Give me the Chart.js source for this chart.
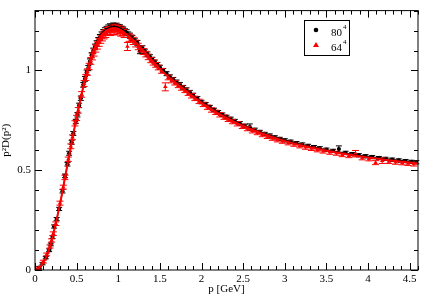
<!DOCTYPE html>
<html>
<head>
<meta charset="utf-8">
<script src="https://cdn.jsdelivr.net/npm/chart.js@4.4.1/dist/chart.umd.min.js"></script>
<style>
    body { margin: 0; background: #ffffff; }
    #chart { display: block; }
</style>
</head>
<body>
<canvas id="chart" width="422" height="296"></canvas>
<script>
// 80^4 lattice
const p80 = [
    0.05, 0.09, 0.13, 0.17, 0.19, 0.21, 0.23, 0.26, 0.29, 0.33,
    0.36, 0.39, 0.41, 0.44, 0.46, 0.49, 0.51, 0.53, 0.55, 0.58,
    0.60, 0.62, 0.64, 0.66, 0.68, 0.70, 0.72, 0.74, 0.76, 0.78,
    0.80, 0.82, 0.84, 0.86, 0.88, 0.90, 0.92, 0.94, 0.96, 0.98,
    1.00, 1.02, 1.04, 1.06, 1.08, 1.10, 1.12, 1.14, 1.17, 1.20,
    1.23, 1.26, 1.29, 1.32, 1.35, 1.38, 1.41, 1.44, 1.47, 1.50,
    1.54, 1.58, 1.62, 1.66, 1.70, 1.74, 1.78, 1.82, 1.86, 1.90,
    1.95, 2.00, 2.05, 2.10, 2.15, 2.20, 2.25, 2.30, 2.35, 2.40,
    2.46, 2.52, 2.58, 2.64, 2.70, 2.76, 2.82, 2.88, 2.94, 3.00,
    3.07, 3.14, 3.21, 3.28, 3.35, 3.42, 3.50, 3.58, 3.65, 3.73,
    3.81, 3.89, 3.97, 4.05, 4.13, 4.21, 4.29, 4.37, 4.45, 4.52, 4.58
];
const y80 = [
    0.012, 0.032, 0.062, 0.099, 0.128, 0.165, 0.218, 0.255, 0.306, 0.395,
    0.472, 0.53, 0.585, 0.64, 0.684, 0.745, 0.778, 0.825, 0.861, 0.928,
    0.958, 0.99, 1.012, 1.045, 1.076, 1.098, 1.118, 1.135, 1.15, 1.165,
    1.178, 1.19, 1.198, 1.205, 1.212, 1.218, 1.214, 1.222, 1.219, 1.221,
    1.216, 1.214, 1.207, 1.204, 1.195, 1.19, 1.18, 1.174, 1.163, 1.15,
    1.138, 1.098, 1.112, 1.096, 1.082, 1.068, 1.055, 1.042, 1.03, 1.016,
    1.0, 0.984, 0.968, 0.955, 0.942, 0.93, 0.915, 0.903, 0.89, 0.876,
    0.86, 0.842, 0.83, 0.816, 0.802, 0.79, 0.778, 0.767, 0.757, 0.746,
    0.735, 0.722, 0.716, 0.702, 0.692, 0.682, 0.674, 0.665, 0.657, 0.65,
    0.643, 0.636, 0.629, 0.622, 0.616, 0.61, 0.603, 0.597, 0.606, 0.587,
    0.581, 0.575, 0.57, 0.566, 0.561, 0.557, 0.553, 0.549, 0.546, 0.542, 0.54
];
const e80 = [
    0.006, 0.006, 0.006, 0.007, 0.007, 0.007, 0.008, 0.008, 0.008, 0.009,
    0.009, 0.009, 0.01, 0.01, 0.01, 0.01, 0.011, 0.011, 0.011, 0.012,
    0.012, 0.012, 0.013, 0.013, 0.013, 0.014, 0.014, 0.014, 0.015, 0.015,
    0.015, 0.015, 0.016, 0.016, 0.016, 0.016, 0.016, 0.016, 0.016, 0.016,
    0.015, 0.015, 0.015, 0.014, 0.014, 0.014, 0.013, 0.013, 0.013, 0.012,
    0.012, 0.014, 0.012, 0.011, 0.011, 0.011, 0.011, 0.01, 0.01, 0.01,
    0.01, 0.01, 0.01, 0.01, 0.01, 0.01, 0.01, 0.01, 0.01, 0.01,
    0.009, 0.009, 0.009, 0.009, 0.009, 0.009, 0.009, 0.009, 0.009, 0.009,
    0.009, 0.009, 0.016, 0.009, 0.008, 0.008, 0.008, 0.008, 0.008, 0.008,
    0.008, 0.008, 0.008, 0.008, 0.008, 0.008, 0.008, 0.008, 0.016, 0.008,
    0.008, 0.008, 0.008, 0.008, 0.008, 0.008, 0.008, 0.008, 0.008, 0.008, 0.008
];

// 64^4 lattice
const p64 = [
    0.04, 0.10, 0.14, 0.18, 0.20, 0.22, 0.25, 0.30, 0.34, 0.36,
    0.40, 0.43, 0.45, 0.48, 0.50, 0.52, 0.56, 0.59, 0.61, 0.63,
    0.65, 0.67, 0.69, 0.71, 0.73, 0.75, 0.77, 0.79, 0.81, 0.83,
    0.85, 0.87, 0.89, 0.91, 0.93, 0.95, 0.97, 0.99, 1.01, 1.03,
    1.05, 1.07, 1.11, 1.13, 1.15, 1.18, 1.21, 1.24, 1.27, 1.30,
    1.33, 1.36, 1.39, 1.42, 1.45, 1.48, 1.52, 1.565, 1.60, 1.64,
    1.68, 1.72, 1.76, 1.80, 1.84, 1.88, 1.92, 1.97, 2.02, 2.07,
    2.12, 2.17, 2.22, 2.27, 2.32, 2.37, 2.43, 2.49, 2.55, 2.61,
    2.67, 2.73, 2.79, 2.85, 2.91, 2.97, 3.04, 3.11, 3.18, 3.25,
    3.32, 3.39, 3.46, 3.54, 3.62, 3.69, 3.77, 3.85, 3.93, 4.01,
    4.09, 4.17, 4.25, 4.33, 4.41, 4.48, 4.55
];
const y64 = [
    0.008, 0.042, 0.078, 0.118, 0.148, 0.182, 0.232, 0.335, 0.415, 0.464,
    0.555, 0.62, 0.665, 0.735, 0.762, 0.8, 0.88, 0.935, 0.965, 0.992,
    1.02, 1.048, 1.07, 1.09, 1.11, 1.125, 1.14, 1.155, 1.168, 1.178,
    1.185, 1.195, 1.2, 1.195, 1.208, 1.2, 1.212, 1.198, 1.205, 1.192,
    1.196, 1.185, 1.12, 1.165, 1.16, 1.148, 1.135, 1.12, 1.108, 1.095,
    1.082, 1.068, 1.052, 1.04, 1.028, 1.015, 0.998, 0.918, 0.965, 0.95,
    0.938, 0.925, 0.912, 0.9, 0.886, 0.873, 0.86, 0.845, 0.83, 0.816,
    0.802, 0.79, 0.778, 0.766, 0.755, 0.744, 0.733, 0.72, 0.709, 0.698,
    0.688, 0.678, 0.669, 0.66, 0.652, 0.645, 0.637, 0.63, 0.622, 0.615,
    0.609, 0.602, 0.596, 0.59, 0.585, 0.578, 0.573, 0.583, 0.562, 0.557,
    0.538, 0.548, 0.544, 0.54, 0.537, 0.534, 0.531
];
const e64 = [
    0.006, 0.007, 0.007, 0.008, 0.008, 0.009, 0.009, 0.01, 0.01, 0.011,
    0.011, 0.012, 0.012, 0.013, 0.013, 0.014, 0.014, 0.015, 0.015, 0.016,
    0.016, 0.017, 0.017, 0.018, 0.018, 0.018, 0.019, 0.019, 0.02, 0.02,
    0.02, 0.02, 0.02, 0.02, 0.02, 0.02, 0.02, 0.02, 0.02, 0.02,
    0.02, 0.02, 0.02, 0.019, 0.018, 0.018, 0.017, 0.016, 0.015, 0.015,
    0.014, 0.014, 0.013, 0.013, 0.012, 0.012, 0.012, 0.02, 0.012, 0.012,
    0.011, 0.011, 0.011, 0.011, 0.011, 0.011, 0.011, 0.011, 0.011, 0.011,
    0.011, 0.011, 0.011, 0.011, 0.011, 0.011, 0.011, 0.011, 0.011, 0.011,
    0.01, 0.01, 0.01, 0.01, 0.01, 0.01, 0.01, 0.01, 0.01, 0.01,
    0.01, 0.01, 0.01, 0.01, 0.01, 0.01, 0.01, 0.016, 0.01, 0.01,
    0.01, 0.014, 0.01, 0.01, 0.01, 0.01, 0.01
];

// fit curves
const fitP = [
    0, 0.05, 0.1, 0.15, 0.2, 0.25, 0.3, 0.35, 0.4, 0.45,
    0.5, 0.55, 0.6, 0.65, 0.7, 0.75, 0.8, 0.85, 0.9, 0.95,
    1.0, 1.05, 1.1, 1.15, 1.2, 1.3, 1.4, 1.5, 1.6, 1.7,
    1.8, 1.9, 2.0, 2.1, 2.2, 2.3, 2.4, 2.5, 2.6, 2.7,
    2.8, 2.9, 3.0, 3.2, 3.4, 3.6, 3.8, 4.0, 4.2, 4.4, 4.6
];
const fit80 = [
    0, 0.01, 0.038, 0.08, 0.148, 0.235, 0.33, 0.44, 0.55, 0.66,
    0.765, 0.863, 0.952, 1.032, 1.097, 1.147, 1.182, 1.205, 1.217, 1.221,
    1.217, 1.207, 1.19, 1.17, 1.15, 1.105, 1.058, 1.013, 0.974, 0.94,
    0.907, 0.874, 0.843, 0.816, 0.79, 0.767, 0.746, 0.727, 0.709, 0.693,
    0.678, 0.664, 0.651, 0.629, 0.611, 0.595, 0.581, 0.569, 0.558, 0.548, 0.539
];
const fit64 = [
    0, 0.01, 0.038, 0.08, 0.148, 0.235, 0.33, 0.44, 0.55, 0.66,
    0.765, 0.863, 0.952, 1.032, 1.097, 1.145, 1.178, 1.198, 1.208, 1.21,
    1.206, 1.196, 1.181, 1.163, 1.144, 1.1, 1.053, 1.008, 0.969, 0.935,
    0.902, 0.869, 0.838, 0.811, 0.785, 0.762, 0.741, 0.722, 0.704, 0.688,
    0.673, 0.659, 0.646, 0.624, 0.606, 0.59, 0.576, 0.564, 0.553, 0.543, 0.534
];

const xTicks = [0, 0.5, 1, 1.5, 2, 2.5, 3, 3.5, 4, 4.5];
const yTicks = [0, 0.5, 1];

const legendItems = [
    { base: "80", sup: "4", color: "#000000", style: "circle" },
    { base: "64", sup: "4", color: "#ff0000", style: "triangle" }
];

const serif = "'Liberation Serif', 'DejaVu Serif', serif";

function toPoints(xs, ys) {
    return xs.map((x, i) => ({ x, y: ys[i] }));
}

// vertical error bars, drawn just before each dataset's markers
const errorBars = {
    id: "errorBars",
    beforeDatasetDraw(chart, args) {
        const ds = chart.data.datasets[args.index];
        if (!ds.errors) {
            return;
        }
        const ctx = chart.ctx;
        const yScale = chart.scales.y;
        ctx.save();
        ctx.strokeStyle = ds.errorColor;
        ctx.lineWidth = 1;
        args.meta.data.forEach((pt, i) => {
            const v = ds.data[i].y;
            const e = ds.errors[i];
            const top = yScale.getPixelForValue(v + e);
            const bot = yScale.getPixelForValue(v - e);
            const half = ds.capWidth / 2;
            ctx.beginPath();
            ctx.moveTo(pt.x, top);
            ctx.lineTo(pt.x, bot);
            ctx.moveTo(pt.x - half, top);
            ctx.lineTo(pt.x + half, top);
            ctx.moveTo(pt.x - half, bot);
            ctx.lineTo(pt.x + half, bot);
            ctx.stroke();
        });
        ctx.restore();
    }
};

// frame with inward ticks on all four sides, plus the legend box
const frameTicks = {
    id: "frameTicks",
    afterDraw(chart) {
        const ctx = chart.ctx;
        const area = chart.chartArea;
        const xs = chart.scales.x;
        const ys = chart.scales.y;
        ctx.save();
        ctx.strokeStyle = "#000000";
        ctx.lineWidth = 1;
        ctx.strokeRect(area.left, area.top, area.right - area.left, area.bottom - area.top);
        ctx.beginPath();
        for (let i = 0; i <= 46; i++) {
            const v = i / 10;
            const len = i % 5 === 0 ? 7 : 4;
            const px = Math.round(xs.getPixelForValue(v)) + 0.5;
            ctx.moveTo(px, area.bottom);
            ctx.lineTo(px, area.bottom - len);
            ctx.moveTo(px, area.top);
            ctx.lineTo(px, area.top + len);
        }
        for (let i = 0; i <= 13; i++) {
            const v = i / 10;
            const len = i % 5 === 0 ? 7 : 4;
            const py = Math.round(ys.getPixelForValue(v)) + 0.5;
            ctx.moveTo(area.left, py);
            ctx.lineTo(area.left + len, py);
            ctx.moveTo(area.right, py);
            ctx.lineTo(area.right - len, py);
        }
        ctx.stroke();

        const bx = 304, by = 20, bw = 45, bh = 35;
        ctx.fillStyle = "#ffffff";
        ctx.fillRect(bx, by, bw, bh);
        ctx.strokeRect(bx + 0.5, by + 0.5, bw, bh);
        legendItems.forEach((item, i) => {
            const cy = 30 + i * 15;
            ctx.fillStyle = item.color;
            ctx.beginPath();
            if (item.style === "circle") {
                ctx.arc(316, cy, 2.3, 0, Math.PI * 2);
            } else {
                ctx.moveTo(316, cy - 3);
                ctx.lineTo(319, cy + 2);
                ctx.lineTo(313, cy + 2);
                ctx.closePath();
            }
            ctx.fill();
            ctx.fillStyle = "#000000";
            ctx.textBaseline = "alphabetic";
            ctx.font = "11px " + serif;
            ctx.fillText(item.base, 331, cy + 6);
            const w = ctx.measureText(item.base).width;
            ctx.font = "7px " + serif;
            ctx.fillText(item.sup, 331 + w + 1, cy - 1);
        });
        ctx.restore();
    }
};

new Chart(document.getElementById("chart"), {
    type: "scatter",
    data: {
        datasets: [
            {
                label: "fit 64",
                data: toPoints(fitP, fit64),
                showLine: true,
                borderColor: "#ff0000",
                borderWidth: 2,
                pointRadius: 0,
                tension: 0.4,
                order: 1
            },
            {
                label: "fit 80",
                data: toPoints(fitP, fit80),
                showLine: true,
                borderColor: "#000000",
                borderWidth: 1.2,
                pointRadius: 0,
                tension: 0.4,
                order: 2
            },
            {
                label: "64⁴",
                data: toPoints(p64, y64),
                errors: e64,
                errorColor: "#ff0000",
                capWidth: 7,
                pointStyle: "triangle",
                pointRadius: 2.6,
                backgroundColor: "#ff0000",
                borderColor: "#ff0000",
                borderWidth: 0,
                order: 3
            },
            {
                label: "80⁴",
                data: toPoints(p80, y80),
                errors: e80,
                errorColor: "#000000",
                capWidth: 6,
                pointStyle: "circle",
                pointRadius: 2.1,
                backgroundColor: "#000000",
                borderColor: "#000000",
                borderWidth: 0,
                order: 4
            }
        ]
    },
    options: {
        responsive: false,
        animation: false,
        devicePixelRatio: 1,
        layout: { padding: { top: 2, right: 3, left: 0, bottom: 0 } },
        plugins: {
            legend: { display: false },
            tooltip: { enabled: false }
        },
        scales: {
            x: {
                type: "linear",
                min: 0,
                max: 4.6,
                afterBuildTicks: (scale) => {
                    scale.ticks = xTicks.map((value) => ({ value }));
                },
                afterFit: (scale) => {
                    scale.height = 26;
                },
                grid: { display: false, drawTicks: false },
                border: { display: false },
                ticks: {
                    color: "#000000",
                    padding: 3,
                    maxRotation: 0,
                    autoSkip: false,
                    callback: (value) => String(value),
                    font: { family: serif, size: 11 }
                },
                title: {
                    display: true,
                    text: "p [GeV]",
                    color: "#000000",
                    padding: { top: 0, bottom: 0 },
                    font: { family: serif, size: 11 }
                }
            },
            y: {
                type: "linear",
                min: 0,
                max: 1.3,
                afterBuildTicks: (scale) => {
                    scale.ticks = yTicks.map((value) => ({ value }));
                },
                afterFit: (scale) => {
                    scale.width = 35;
                },
                grid: { display: false, drawTicks: false },
                border: { display: false },
                ticks: {
                    color: "#000000",
                    padding: 4,
                    autoSkip: false,
                    callback: (value) => String(value),
                    font: { family: serif, size: 11 }
                },
                title: {
                    display: true,
                    text: "p²D(p²)",
                    color: "#000000",
                    padding: { top: 0, bottom: 0 },
                    font: { family: serif, size: 11 }
                }
            }
        }
    },
    plugins: [errorBars, frameTicks]
});
</script>
</body>
</html>
